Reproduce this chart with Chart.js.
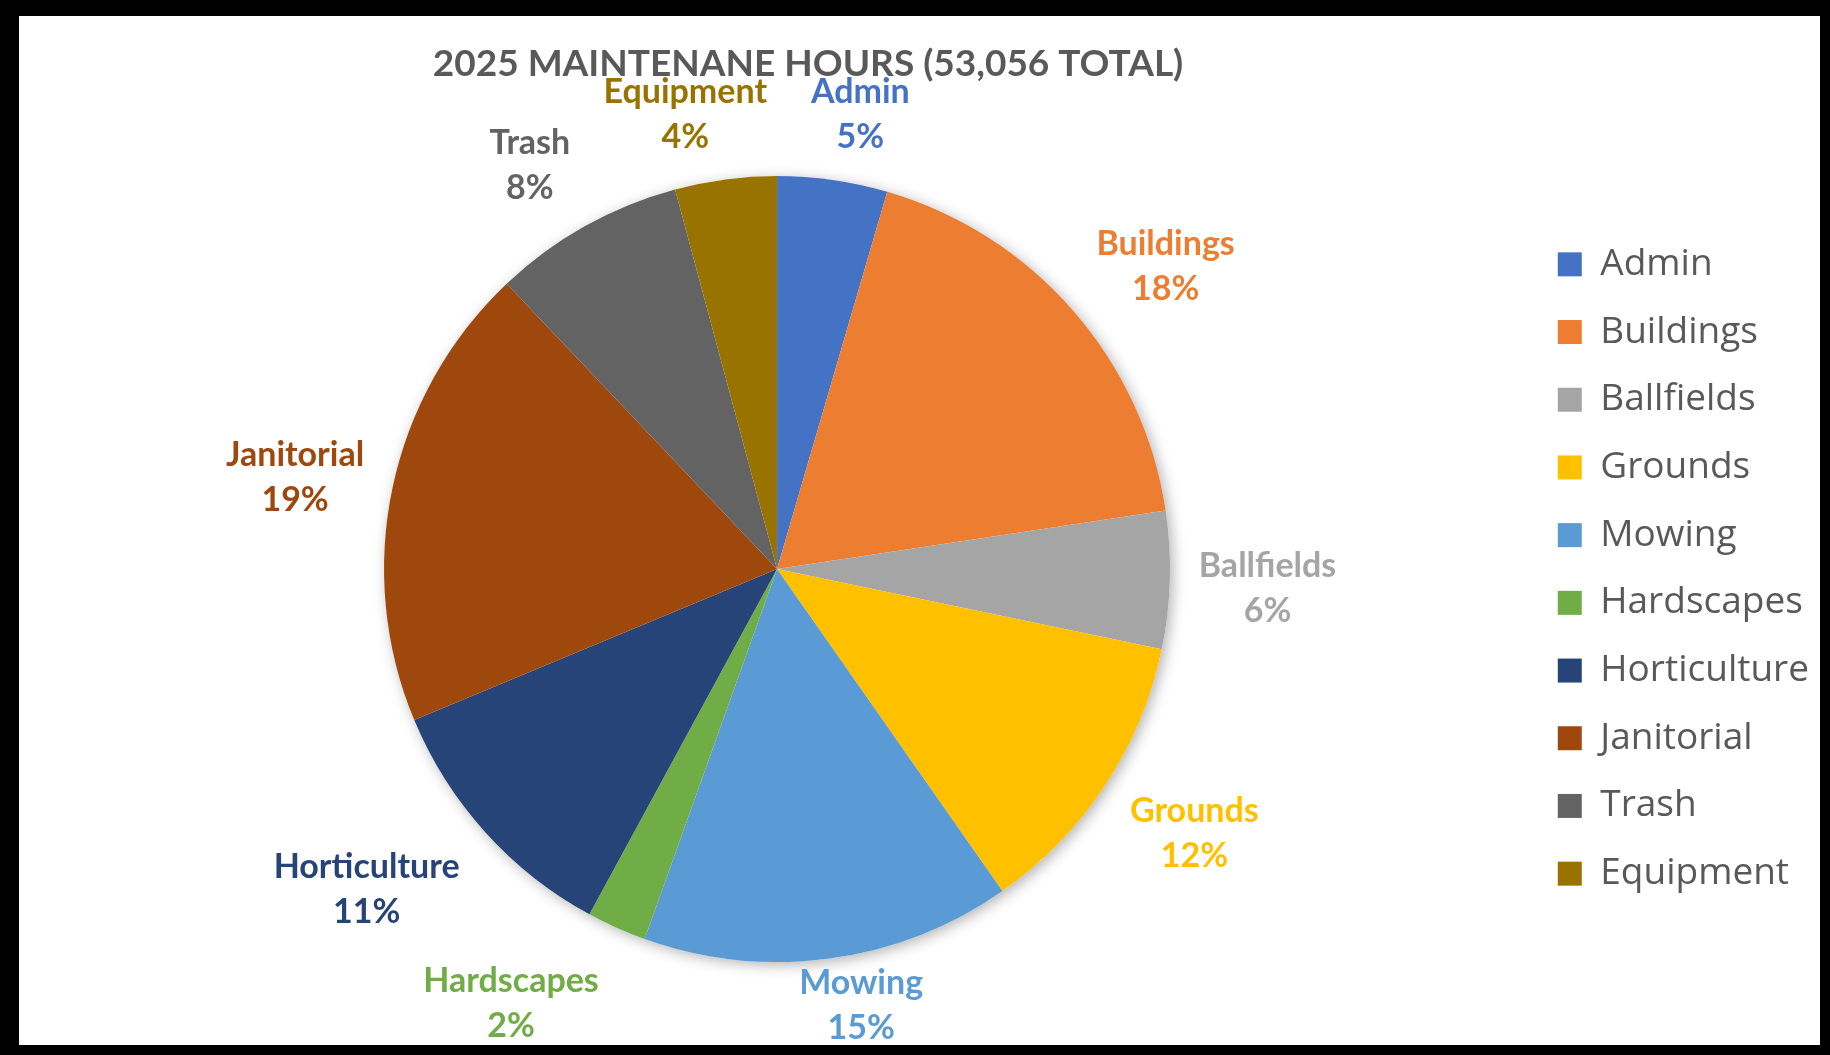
<!DOCTYPE html>
<html>
<head>
<meta charset="utf-8">
<title>2025 Maintenance Hours</title>
<script src="https://cdn.jsdelivr.net/npm/chart.js@4/dist/chart.umd.min.js"></script>
<style>
  html, body { margin: 0; padding: 0; background: #000; }
  body { width: 1830px; height: 1055px; position: relative; overflow: hidden; }
  #frame { position: absolute; left: 19px; top: 16px; width: 1801px; height: 1029px; background: #fff; }
  canvas { display: block; }
</style>
</head>
<body>
<div id="frame"><canvas id="hoursChart" width="1801" height="1029"></canvas></div>
<script>
"use strict";
const chartTitle = "2025 MAINTENANE HOURS (53,056 TOTAL)";
const categories = ["Admin", "Buildings", "Ballfields", "Grounds", "Mowing",
  "Hardscapes", "Horticulture", "Janitorial", "Trash", "Equipment"];
// hours per category (total 53,056)
const hours = [2400, 9600, 3000, 6370, 8060, 1300, 5730, 10190, 4190, 2216];
const sliceColors = ["#4472C4", "#ED7D31", "#A5A5A5", "#FFC000", "#5B9BD5",
  "#70AD47", "#264478", "#9E480E", "#636363", "#997300"];

const LABEL_LINE = 45;
const LABEL_GAP = 22;
const LABEL_DROP = 6; // Lato sits a bit higher than the original font

// soft shadow under the whole pie, like the Excel effect
const pieShadow = {
  id: "pieShadow",
  beforeDatasetsDraw(chart) {
    const arc = chart.getDatasetMeta(0).data[0];
    if (!arc) return;
    const ctx = chart.ctx;
    ctx.save();
    ctx.shadowColor = "rgba(0,0,0,0.3)";
    ctx.shadowBlur = 14;
    ctx.shadowOffsetX = 3;
    ctx.shadowOffsetY = 3;
    ctx.beginPath();
    ctx.arc(arc.x, arc.y, arc.outerRadius, 0, Math.PI * 2);
    ctx.fillStyle = "#fff";
    ctx.fill();
    ctx.restore();
  }
};

const clamp = (v, lim) => Math.max(-lim, Math.min(lim, v));

// category name + percent outside each slice (roughly Excel's "best fit")
const outsideLabels = {
  id: "outsideLabels",
  afterDatasetsDraw(chart) {
    const ctx = chart.ctx;
    const meta = chart.getDatasetMeta(0);
    const total = hours.reduce((a, b) => a + b, 0);
    ctx.save();
    ctx.font = "bold 34px Lato";
    ctx.textAlign = "center";
    ctx.textBaseline = "middle";
    meta.data.forEach((arc, i) => {
      const {x, y, startAngle, endAngle, outerRadius} =
        arc.getProps(["x", "y", "startAngle", "endAngle", "outerRadius"], true);
      const mid = (startAngle + endAngle) / 2;
      const pct = Math.round(hours[i] / total * 100) + "%";
      const w = Math.max(ctx.measureText(categories[i]).width, ctx.measureText(pct).width);
      const h = LABEL_LINE * 2;
      const dx = Math.cos(mid), dy = Math.sin(mid);
      const d = outerRadius + LABEL_GAP;
      let cx = x + dx * d + (w / 2) * clamp(dx * 3.5, 1.1);
      let cy = y + dy * d + (h / 2) * clamp(dy * 1.2, 1.1);
      cy = Math.min(cy, chart.height - h / 2);
      cy = Math.max(cy, h / 2) + LABEL_DROP;
      ctx.fillStyle = sliceColors[i];
      ctx.fillText(categories[i], cx, cy - LABEL_LINE / 2);
      ctx.fillText(pct, cx, cy + LABEL_LINE / 2);
    });
    ctx.restore();
  }
};

// title sits a little right of the pie centre
const titleText = {
  id: "titleText",
  afterDraw(chart) {
    const ctx = chart.ctx;
    const area = chart.chartArea;
    ctx.save();
    ctx.font = "bold 37px Lato";
    ctx.fillStyle = "#595959";
    ctx.textAlign = "center";
    ctx.textBaseline = "middle";
    ctx.fillText(chartTitle, (area.left + area.right) / 2 + 31, 48);
    ctx.restore();
  }
};

new Chart(document.getElementById("hoursChart"), {
  type: "pie",
  data: {
    labels: categories,
    datasets: [{
      data: hours,
      backgroundColor: sliceColors,
      borderWidth: 0,
      radius: 393
    }]
  },
  options: {
    responsive: false,
    animation: false,
    devicePixelRatio: 1,
    layout: { padding: { top: 137, bottom: 60, left: 8, right: 1 } },
    plugins: {
      title: { display: false },
      tooltip: { enabled: false },
      legend: {
        position: "right",
        labels: {
          boxWidth: 24,
          boxHeight: 24,
          padding: 30.7,
          color: "#595959",
          font: { family: "'Open Sans'", size: 37 }
        }
      }
    }
  },
  plugins: [pieShadow, outsideLabels, titleText]
});
</script>
</body>
</html>
